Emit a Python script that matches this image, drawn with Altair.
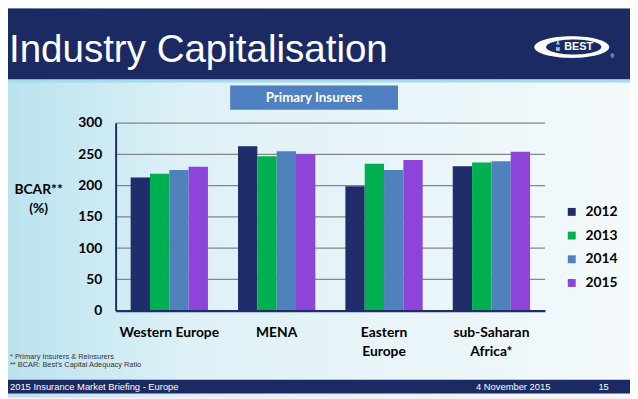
import altair as alt
import pandas as pd

# ---------------- data ----------------
regions = ["Western Europe", "MENA", "Eastern Europe", "sub-Saharan Africa*"]
years = ["2012", "2013", "2014", "2015"]
bcar_2012 = [213, 263, 199, 231]
bcar_2013 = [219, 247, 235, 237]
bcar_2014 = [225, 255, 225, 239]
bcar_2015 = [230, 250, 241, 254]
y_ticks = [0, 50, 100, 150, 200, 250, 300]
year_colors = ["#1f2d6a", "#00b050", "#4f81bd", "#8e44d9"]

rows = []
for yr, vals in zip(years, [bcar_2012, bcar_2013, bcar_2014, bcar_2015]):
    for r, v in zip(regions, vals):
        rows.append({"region": r, "year": yr, "bcar": v})
df = pd.DataFrame(rows)

# ---------------- layout helpers ----------------
W, H = 435, 190
OX, OY = 117, 122  # page position of plot-area origin
NAVY = "#1b2a62"
one = pd.DataFrame({"k": [0]})


def px(x):
    return x - OX


def py(y):
    return y - OY


def rect(x1, y1, x2, y2, color):
    return alt.Chart(one).mark_rect(color=color).encode(
        x=alt.value(px(x1)), x2=alt.value(px(x2)),
        y=alt.value(py(y1)), y2=alt.value(py(y2)))


def text(x, y, s, size, color, font, weight="normal", align="left", baseline="middle"):
    return alt.Chart(one).mark_text(
        text=s, fontSize=size, color=color, font=font, fontWeight=weight,
        align=align, baseline=baseline).encode(x=alt.value(px(x)), y=alt.value(py(y)))


def ellipse(cx, cy, w, ratio, color):
    path = f"M -1 0 A 1 {ratio} 0 1 0 1 0 A 1 {ratio} 0 1 0 -1 0 Z"
    return alt.Chart(one).mark_point(shape=path, size=w * w, filled=True, color=color,
                                     opacity=1, strokeWidth=0).encode(
        x=alt.value(px(cx)), y=alt.value(py(cy)))


bg = alt.Chart(one).mark_rect(
    color=alt.LinearGradient(
        gradient="linear", x1=0, x2=1, y1=0, y2=0,
        stops=[alt.GradientStop(offset=0, color="#b8e2ee"),
               alt.GradientStop(offset=0.3, color="#def1f7"),
               alt.GradientStop(offset=1, color="#f4f9fb")])
).encode(x=alt.value(px(0)), x2=alt.value(px(640)), y=alt.value(py(0)), y2=alt.value(py(400)))

header = rect(0, 6, 640, 78, NAVY)
header_line = rect(0, 78, 640, 81, "#a6dbe9")
title = text(9, 60, "Industry Capitalisation", 39, "white", "Liberation Sans", baseline="alphabetic")

logo_outer = ellipse(579, 45, 76, 0.29, "white")
logo_inner = ellipse(581, 45, 56, 0.27, NAVY)
logo_best = text(586, 45.5, "BEST", 11, "white", "Liberation Sans", "bold", "center")
logo_a = text(565, 42, "A", 4.5, "white", "Liberation Sans", "bold", "center")
logo_m = text(565, 48, "M", 4.5, "white", "Liberation Sans", "bold", "center")
logo_r = text(620, 54, "®", 5, "white", "Liberation Sans", "normal", "center")

box = rect(233, 84, 403, 108.5, "#4f80c1")
box_text = text(318, 96.5, "Primary Insurers", 13.5, "white", "Lato", "bold", "center")

ytitle1 = text(39, 190, "BCAR**", 14, "black", "Lato", "bold", "center")
ytitle2 = text(39, 209, "(%)", 14, "black", "Lato", "bold", "center")

y_axis = alt.Axis(title=None, values=y_ticks, grid=False, ticks=False,
                  labelFont="Lato", labelFontSize=14, labelFontWeight="bold",
                  labelColor="black", labelPadding=14,
                  domainColor="#1f2d6a", domainWidth=2, zindex=1)
y_scale = alt.Scale(domain=[0, 300], nice=False)

grid = alt.Chart(pd.DataFrame({"bcar": y_ticks[1:]})).mark_rule(
    color="#868686", strokeWidth=1.2).encode(
    y=alt.Y("bcar:Q", scale=y_scale, axis=y_axis))

label_expr = ("datum.label == 'Eastern Europe' ? ['Eastern', 'Europe'] : "
              "datum.label == 'sub-Saharan Africa*' ? ['sub-Saharan', 'Africa*'] : datum.label")

bars = alt.Chart(df).mark_bar().encode(
    x=alt.X("region:N", sort=regions,
            scale=alt.Scale(paddingInner=0.28, paddingOuter=0.14),
            axis=alt.Axis(title=None, labelAngle=0, labelExpr=label_expr,
                          labelFont="Lato", labelFontSize=14, labelFontWeight="bold",
                          labelColor="black", labelPadding=15, ticks=False,
                          domainColor="#1f2d6a", domainWidth=2.5, zindex=1,
                          labelLineHeight=19, labelBaseline="top")),
    xOffset=alt.XOffset("year:N", sort=years,
                        scale=alt.Scale(paddingInner=0, paddingOuter=0)),
    y=alt.Y("bcar:Q", scale=y_scale, axis=y_axis),
    color=alt.Color("year:N", sort=years,
                    scale=alt.Scale(domain=years, range=year_colors),
                    legend=alt.Legend(title=None, orient="none", legendX=455, legendY=83,
                                      symbolType="square", symbolSize=64,
                                      symbolStrokeWidth=0, symbolOpacity=1,
                                      labelFont="Lato", labelFontSize=14,
                                      labelFontWeight="bold", labelColor="black",
                                      rowPadding=10, labelOffset=7, zindex=1)),
)

foot1 = text(10, 359.5, "* Primary Insurers & Reinsurers", 7.5, "#333333", "Liberation Sans")
foot2 = text(10, 367.5, "** BCAR: Best's Capital Adequacy Ratio", 7.5, "#333333", "Liberation Sans")

footer = rect(0, 382, 640, 396, NAVY)
footer_t1 = text(10, 389.5, "2015 Insurance Market Briefing - Europe", 9.5, "white", "Liberation Sans")
footer_t2 = text(482, 389.5, "4 November 2015", 9.5, "white", "Liberation Sans")
footer_t3 = text(606, 389.5, "15", 9.5, "white", "Liberation Sans")

chart = alt.layer(
    bg, header, header_line, title,
    logo_outer, logo_inner, logo_best, logo_a, logo_m, logo_r,
    box, box_text, ytitle1, ytitle2,
    grid, bars,
    foot1, foot2, footer, footer_t1, footer_t2, footer_t3,
).properties(
    width=W, height=H,
    padding={"left": 109, "top": 114, "right": 86, "bottom": 87},
    autosize=alt.AutoSizeParams(type="none"),
    background="#eaf5f9",
).configure_view(stroke=None)

chart.save("out.html", embed_options={"renderer": "svg", "actions": False})
